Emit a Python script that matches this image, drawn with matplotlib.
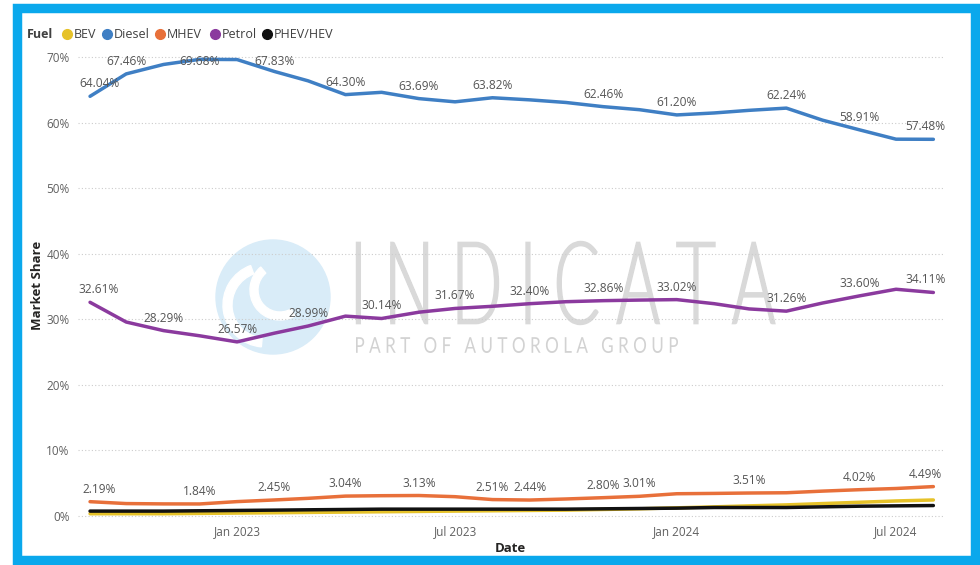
import matplotlib
matplotlib.use("Agg")
import matplotlib.pyplot as plt
import matplotlib.dates as mdates
import matplotlib.patches as mpatches
from matplotlib.lines import Line2D
from matplotlib.textpath import TextPath
from matplotlib.font_manager import FontProperties
from matplotlib.transforms import Affine2D
import pandas as pd

plt.rcParams['font.family'] = ['Open Sans', 'Noto Sans', 'DejaVu Sans']

# monthly market share by fuel type, Sep 2022 - Aug 2024
months = pd.date_range("2022-09-01", "2024-08-01", freq="MS")

bev = [0.35, 0.35, 0.35, 0.4, 0.45, 0.5, 0.55, 0.6, 0.65, 0.7, 0.75, 0.8,
       0.85, 0.9, 1.0, 1.1, 1.25, 1.4, 1.55, 1.7, 1.9, 2.1, 2.3, 2.45]
diesel = [64.04, 67.46, 68.9, 69.68, 69.65, 67.83, 66.4, 64.30, 64.65, 63.69, 63.2, 63.82,
          63.5, 63.1, 62.46, 62.0, 61.20, 61.5, 61.9, 62.24, 60.4, 58.91, 57.5, 57.48]
mhev = [2.19, 1.9, 1.85, 1.84, 2.2, 2.45, 2.7, 3.04, 3.1, 3.13, 2.95, 2.51,
        2.44, 2.6, 2.80, 3.01, 3.4, 3.45, 3.51, 3.55, 3.8, 4.02, 4.2, 4.49]
petrol = [32.61, 29.6, 28.29, 27.5, 26.57, 27.9, 28.99, 30.5, 30.14, 31.1, 31.67, 32.0,
          32.40, 32.7, 32.86, 32.95, 33.02, 32.4, 31.6, 31.26, 32.5, 33.60, 34.6, 34.11]
phev = [0.75, 0.75, 0.75, 0.8, 0.85, 0.9, 0.95, 1.0, 1.05, 1.05, 1.05, 1.05,
        1.05, 1.05, 1.1, 1.15, 1.2, 1.3, 1.3, 1.3, 1.4, 1.5, 1.55, 1.6]

fuels = ["BEV", "Diesel", "MHEV", "Petrol", "PHEV/HEV"]
series = [bev, diesel, mhev, petrol, phev]
colors = ["#E6C229", "#3F7FC4", "#E8703A", "#8B3A9E", "#111111"]

# months that carry a data label
label_idx = {
    "Diesel": [0, 1, 3, 5, 7, 9, 11, 14, 16, 19, 21, 23],
    "Petrol": [0, 2, 4, 6, 8, 10, 12, 14, 16, 19, 21, 23],
    "MHEV": [0, 3, 5, 7, 9, 11, 12, 14, 15, 18, 21, 23],
}

W, H = 980, 565
fig = plt.figure(figsize=(W / 100, H / 100), dpi=100)
fig.patch.set_facecolor("white")

def fx(px):
    return px / W

def fy(py):
    return 1 - py / H

# blue frame
fig.add_artist(mpatches.Rectangle((fx(17), fy(560)), fx(975) - fx(17), fy(7.5) - fy(560),
                                  transform=fig.transFigure, fill=False,
                                  edgecolor="#0AA8EC", linewidth=6.8))

# watermark, drawn in pixel coordinates
wm = fig.add_axes([0, 0, 1, 1], zorder=-1)
wm.set_xlim(0, W)
wm.set_ylim(H, 0)
wm.axis("off")
wm.add_patch(mpatches.Circle((273, 297), 57, color="#D9ECF8"))
wm.add_patch(mpatches.Wedge((265, 305), 42, 95, 250, width=9, color="white"))
wm.add_patch(mpatches.Wedge((280, 290), 30, 60, 230, width=8, color="white"))

def boxed_text(txt, x0, x1, y0, y1, color, weight="normal", edge=0):
    tp = TextPath((0, 0), txt, size=100, prop=FontProperties(family="Lato", weight=weight))
    ext = tp.get_extents()
    sx = (x1 - x0) / ext.width
    sy = (y1 - y0) / ext.height
    tr = Affine2D().translate(-ext.x0, -ext.y0).scale(sx, -sy).translate(x0, y1)
    wm.add_patch(mpatches.PathPatch(tr.transform_path(tp), facecolor=color,
                                    edgecolor=color, lw=edge, joinstyle="miter"))

boxed_text("I N D I C A T A", 358, 773, 243, 323, "#D9D9D9", "light", edge=3.2)
boxed_text("P A R T   O F   A U T O R O L A   G R O U P", 356, 678, 337, 353, "#D2D2D2")

ax = fig.add_axes([fx(78), fy(519.3), fx(943) - fx(78), fy(50.7) - fy(519.3)])
ax.set_facecolor("none")

px_per_pct = 6.553
top_label = 69.4
for name, vals, c in zip(fuels, series, colors):
    ax.plot(months, vals, color=c, linewidth=2.5, solid_capstyle="round", zorder=3)
    idx = label_idx.get(name, [])
    for i in idx:
        ly = min(vals[i] + 12.5 / px_per_pct, top_label)
        dx = 9 if i == 0 else (-8 if i == len(vals) - 1 else 0)
        ax.annotate(f"{vals[i]:.2f}%", (months[i], ly), xytext=(dx, 0),
                    textcoords="offset pixels", ha="center", va="center",
                    fontsize=8.6, color="#555555", zorder=4)

ax.set_ylim(-0.5, 71)
ax.set_xlim(pd.Timestamp("2022-08-22"), pd.Timestamp("2024-08-09"))
ax.set_yticks(range(0, 71, 10))
ax.set_yticklabels([f"{v}%" for v in range(0, 71, 10)])
ax.set_xticks([pd.Timestamp(d) for d in ["2023-01-01", "2023-07-01", "2024-01-01", "2024-07-01"]])
ax.xaxis.set_major_formatter(mdates.DateFormatter("%b %Y"))
ax.grid(axis="y", linestyle=(0, (1, 2)), color="#CCCCCC", linewidth=0.8)
ax.set_axisbelow(True)
for s in ax.spines.values():
    s.set_visible(False)
ax.tick_params(axis="both", length=0, labelsize=8.5, labelcolor="#606060")
ax.tick_params(axis="y", pad=6)
ax.tick_params(axis="x", pad=4)
ax.set_xlabel("Date", fontsize=9.5, fontweight="bold", color="#252423", labelpad=3)
ax.set_ylabel("Market Share", fontsize=9.5, fontweight="bold", color="#252423", labelpad=2)

# legend row
fig.text(fx(27), fy(34), "Fuel", fontsize=9, fontweight="bold", color="#404040",
         va="center", ha="left")
leg_x = [67, 107, 160, 215, 267]
for x, name, c in zip(leg_x, fuels, colors):
    fig.add_artist(Line2D([fx(x)], [fy(34)], marker="o", markersize=7, color=c,
                          linestyle="none", transform=fig.transFigure))
    fig.text(fx(x + 6.5), fy(34), name, fontsize=9, color="#404040", va="center", ha="left")

fig.savefig("out.png", dpi=100, facecolor="white")
